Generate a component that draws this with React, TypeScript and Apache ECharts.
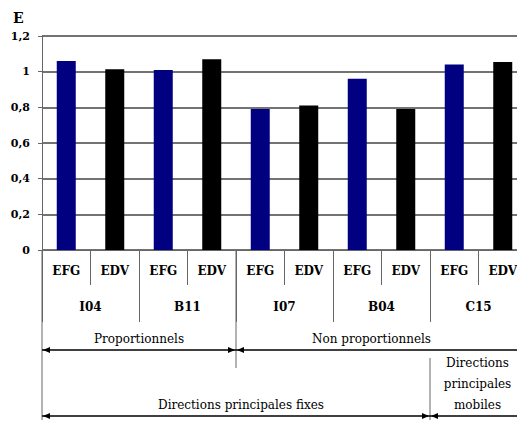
import React, { useEffect, useRef } from "react";
import * as echarts from "echarts";

const groups = ["I04", "B11", "I07", "B04", "C15"];
const methods = ["EFG", "EDV"];
const efgValues = [1.06, 1.01, 0.79, 0.96, 1.04];
const edvValues = [1.013, 1.07, 0.81, 0.79, 1.054];
const methodColors = ["#000080", "#000000"];
const yAxisName = "E";
const familyLabels = ["Proportionnels", "Non proportionnels"];
const directionLabels = ["Directions principales fixes", "Directions\nprincipales\nmobiles"];

const categories = groups.flatMap(() => methods);
const values = groups.flatMap((_, i) => [efgValues[i], edvValues[i]]);

const SERIF = "'DejaVu Serif'";

export default function App() {
  const ref = useRef<HTMLDivElement>(null);
  useEffect(() => {
    const el = ref.current!;
    const chart = echarts.init(el, null, { renderer: "svg" });
    const gray = "#666";
    chart.setOption({
      animation: false,
      textStyle: { fontFamily: SERIF },
      grid: { left: 42, right: 0, top: 36, bottom: 172 },
      xAxis: [
        {
          type: "category",
          data: categories,
          position: "bottom",
          axisLine: { lineStyle: { color: gray, width: 1 } },
          axisTick: { show: true, interval: 0, length: 35, lineStyle: { color: gray } },
          axisLabel: {
            interval: 0,
            margin: 15,
            fontFamily: SERIF,
            fontWeight: "bold",
            fontSize: 12,
            color: "#000",
          },
        },
        {
          type: "category",
          data: groups,
          position: "bottom",
          axisLine: { show: false },
          axisTick: { show: true, interval: 0, length: 72, lineStyle: { color: gray } },
          axisLabel: {
            interval: 0,
            margin: 51,
            fontFamily: SERIF,
            fontWeight: "bold",
            fontSize: 12,
            color: "#000",
          },
        },
      ],
      yAxis: {
        type: "value",
        min: 0,
        max: 1.2,
        interval: 0.2,
        axisLine: { show: true, lineStyle: { color: gray } },
        axisTick: { show: true, length: 4, lineStyle: { color: gray } },
        splitLine: { show: true, lineStyle: { color: "#444", width: 1.5 } },
        axisLabel: {
          margin: 12,
          fontFamily: SERIF,
          fontWeight: "bold",
          fontSize: 11,
          color: "#000",
          formatter: (v: number) => String(Number(v.toFixed(1))).replace(".", ","),
        },
      },
      series: [
        {
          type: "bar",
          xAxisIndex: 0,
          barWidth: 19,
          data: values.map((v, i) => ({
            value: v,
            itemStyle: { color: methodColors[i % 2] },
          })),
        },
      ],
    });

    const px = (i: number) => chart.convertToPixel({ xAxisIndex: 0 }, i) as number;
    const bw = px(1) - px(0);
    const b = (k: number) => px(0) - bw / 2 + k * bw;
    const y0 = chart.convertToPixel({ yAxisIndex: 0 }, 0) as number;
    const rightEnd = b(categories.length) + 10;

    const line = (x1: number, y1: number, x2: number, y2: number, color = "#000", w = 1.5) => ({
      type: "line",
      shape: { x1, y1, x2, y2 },
      style: { stroke: color, lineWidth: w },
      silent: true,
    });
    const head = (x: number, y: number, dir: number) => ({
      type: "polygon",
      shape: { points: [[x, y], [x + dir * 7, y - 3], [x + dir * 7, y + 3]] },
      style: { fill: "#000" },
      silent: true,
    });
    const text = (x: number, y: number, t: string, lh = 21) => ({
      type: "text",
      x,
      y,
      style: {
        text: t,
        fontFamily: SERIF,
        fontSize: 12,
        fill: "#000",
        align: "center",
        verticalAlign: "middle",
        lineHeight: lh,
      },
      silent: true,
    });

    const yArrow1 = y0 + 100;
    const yArrow2 = y0 + 166;
    const b0 = b(0);
    const b4 = b(4);
    const b8 = b(8);

    chart.setOption({
      graphic: [
        {
          type: "text",
          left: 13,
          top: 11,
          style: { text: yAxisName, fontFamily: SERIF, fontWeight: "bold", fontSize: 14, fill: "#000" },
        },
        line(b0, y0, b0, y0 + 170, "#666", 1),
        line(b4, y0, b4, y0 + 118, "#666", 1),
        line(b8, y0 + 108, b8, y0 + 170, "#666", 1),
        line(b0, yArrow1, b4, yArrow1),
        head(b0 + 1, yArrow1, 1),
        head(b4 - 1, yArrow1, -1),
        line(b4, yArrow1, rightEnd, yArrow1),
        head(b4 + 1, yArrow1, 1),
        line(b0, yArrow2, b8, yArrow2),
        head(b0 + 1, yArrow2, 1),
        head(b8 - 1, yArrow2, -1),
        line(b8, yArrow2, rightEnd, yArrow2),
        head(b8 + 1, yArrow2, 1),
        text((b0 + b4) / 2, y0 + 89, familyLabels[0]),
        text(b(7) - 10, y0 + 89, familyLabels[1]),
        text((b0 + b8) / 2 + 5, y0 + 155, directionLabels[0]),
        text(b(9) - 1, y0 + 134, directionLabels[1]),
      ],
    });

    return () => chart.dispose();
  }, []);
  return (
    <div
      style={{
        position: "absolute",
        left: 0,
        top: 0,
        width: 517,
        height: 422,
        overflow: "hidden",
        background: "#fff",
      }}
    >
      <div ref={ref} style={{ width: 527, height: 422 }} />
    </div>
  );
}
